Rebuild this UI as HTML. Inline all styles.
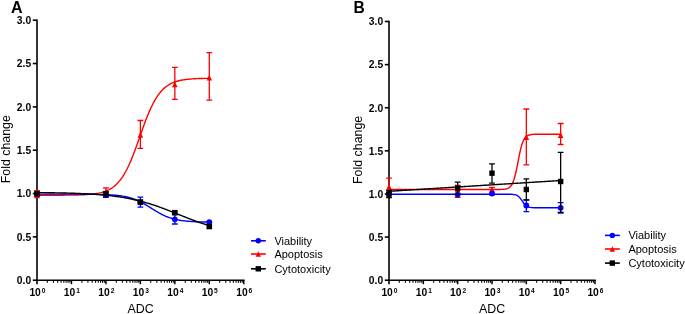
<!DOCTYPE html>
<html><head><meta charset="utf-8"><style>
html,body{margin:0;padding:0;background:#fff;width:685px;height:314px;overflow:hidden}
svg{display:block;will-change:transform}
text{font-family:"Liberation Sans",sans-serif;fill:#000}
.tl{font-size:10.3px;font-weight:bold}
.sup{font-size:6.6px;font-weight:bold}
.at{font-size:12.4px}
.lg{font-size:11.0px}
.pl{font-size:16px;font-weight:bold}
</style></head><body>
<svg width="685" height="314" viewBox="0 0 685 314">
<path d="M37.00 19.40V284.20" stroke="#000" stroke-width="1.6" fill="none"/>
<path d="M32.80 280.20H37.0" stroke="#000" stroke-width="1.6"/>
<text x="31.20" y="284.00" text-anchor="end" class="tl">0.0</text>
<path d="M32.80 236.87H37.0" stroke="#000" stroke-width="1.6"/>
<text x="31.20" y="240.67" text-anchor="end" class="tl">0.5</text>
<path d="M32.80 193.53H37.0" stroke="#000" stroke-width="1.6"/>
<text x="31.20" y="197.33" text-anchor="end" class="tl">1.0</text>
<path d="M32.80 150.20H37.0" stroke="#000" stroke-width="1.6"/>
<text x="31.20" y="154.00" text-anchor="end" class="tl">1.5</text>
<path d="M32.80 106.87H37.0" stroke="#000" stroke-width="1.6"/>
<text x="31.20" y="110.67" text-anchor="end" class="tl">2.0</text>
<path d="M32.80 63.53H37.0" stroke="#000" stroke-width="1.6"/>
<text x="31.20" y="67.33" text-anchor="end" class="tl">2.5</text>
<path d="M32.80 20.20H37.0" stroke="#000" stroke-width="1.6"/>
<text x="31.20" y="24.00" text-anchor="end" class="tl">3.0</text>
<path d="M36.20 280.20H244.56" stroke="#000" stroke-width="1.6" fill="none"/>
<text x="29.40" y="296.00" class="tl">10</text><text x="41.80" y="292.90" class="sup">0</text>
<path d="M47.37 280.20V282.70" stroke="#000" stroke-width="1.1"/>
<path d="M53.44 280.20V282.70" stroke="#000" stroke-width="1.1"/>
<path d="M57.75 280.20V282.70" stroke="#000" stroke-width="1.1"/>
<path d="M61.09 280.20V282.70" stroke="#000" stroke-width="1.1"/>
<path d="M63.82 280.20V282.70" stroke="#000" stroke-width="1.1"/>
<path d="M66.12 280.20V282.70" stroke="#000" stroke-width="1.1"/>
<path d="M68.12 280.20V282.70" stroke="#000" stroke-width="1.1"/>
<path d="M69.88 280.20V282.70" stroke="#000" stroke-width="1.1"/>
<path d="M71.46 280.20V284.20" stroke="#000" stroke-width="1.5"/>
<text x="63.86" y="296.00" class="tl">10</text><text x="76.26" y="292.90" class="sup">1</text>
<path d="M81.83 280.20V282.70" stroke="#000" stroke-width="1.1"/>
<path d="M87.90 280.20V282.70" stroke="#000" stroke-width="1.1"/>
<path d="M92.21 280.20V282.70" stroke="#000" stroke-width="1.1"/>
<path d="M95.55 280.20V282.70" stroke="#000" stroke-width="1.1"/>
<path d="M98.28 280.20V282.70" stroke="#000" stroke-width="1.1"/>
<path d="M100.58 280.20V282.70" stroke="#000" stroke-width="1.1"/>
<path d="M102.58 280.20V282.70" stroke="#000" stroke-width="1.1"/>
<path d="M104.34 280.20V282.70" stroke="#000" stroke-width="1.1"/>
<path d="M105.92 280.20V284.20" stroke="#000" stroke-width="1.5"/>
<text x="98.32" y="296.00" class="tl">10</text><text x="110.72" y="292.90" class="sup">2</text>
<path d="M116.29 280.20V282.70" stroke="#000" stroke-width="1.1"/>
<path d="M122.36 280.20V282.70" stroke="#000" stroke-width="1.1"/>
<path d="M126.67 280.20V282.70" stroke="#000" stroke-width="1.1"/>
<path d="M130.01 280.20V282.70" stroke="#000" stroke-width="1.1"/>
<path d="M132.74 280.20V282.70" stroke="#000" stroke-width="1.1"/>
<path d="M135.04 280.20V282.70" stroke="#000" stroke-width="1.1"/>
<path d="M137.04 280.20V282.70" stroke="#000" stroke-width="1.1"/>
<path d="M138.80 280.20V282.70" stroke="#000" stroke-width="1.1"/>
<path d="M140.38 280.20V284.20" stroke="#000" stroke-width="1.5"/>
<text x="132.78" y="296.00" class="tl">10</text><text x="145.18" y="292.90" class="sup">3</text>
<path d="M150.75 280.20V282.70" stroke="#000" stroke-width="1.1"/>
<path d="M156.82 280.20V282.70" stroke="#000" stroke-width="1.1"/>
<path d="M161.13 280.20V282.70" stroke="#000" stroke-width="1.1"/>
<path d="M164.47 280.20V282.70" stroke="#000" stroke-width="1.1"/>
<path d="M167.20 280.20V282.70" stroke="#000" stroke-width="1.1"/>
<path d="M169.50 280.20V282.70" stroke="#000" stroke-width="1.1"/>
<path d="M171.50 280.20V282.70" stroke="#000" stroke-width="1.1"/>
<path d="M173.26 280.20V282.70" stroke="#000" stroke-width="1.1"/>
<path d="M174.84 280.20V284.20" stroke="#000" stroke-width="1.5"/>
<text x="167.24" y="296.00" class="tl">10</text><text x="179.64" y="292.90" class="sup">4</text>
<path d="M185.21 280.20V282.70" stroke="#000" stroke-width="1.1"/>
<path d="M191.28 280.20V282.70" stroke="#000" stroke-width="1.1"/>
<path d="M195.59 280.20V282.70" stroke="#000" stroke-width="1.1"/>
<path d="M198.93 280.20V282.70" stroke="#000" stroke-width="1.1"/>
<path d="M201.66 280.20V282.70" stroke="#000" stroke-width="1.1"/>
<path d="M203.96 280.20V282.70" stroke="#000" stroke-width="1.1"/>
<path d="M205.96 280.20V282.70" stroke="#000" stroke-width="1.1"/>
<path d="M207.72 280.20V282.70" stroke="#000" stroke-width="1.1"/>
<path d="M209.30 280.20V284.20" stroke="#000" stroke-width="1.5"/>
<text x="201.70" y="296.00" class="tl">10</text><text x="214.10" y="292.90" class="sup">5</text>
<path d="M219.67 280.20V282.70" stroke="#000" stroke-width="1.1"/>
<path d="M225.74 280.20V282.70" stroke="#000" stroke-width="1.1"/>
<path d="M230.05 280.20V282.70" stroke="#000" stroke-width="1.1"/>
<path d="M233.39 280.20V282.70" stroke="#000" stroke-width="1.1"/>
<path d="M236.12 280.20V282.70" stroke="#000" stroke-width="1.1"/>
<path d="M238.42 280.20V282.70" stroke="#000" stroke-width="1.1"/>
<path d="M240.42 280.20V282.70" stroke="#000" stroke-width="1.1"/>
<path d="M242.18 280.20V282.70" stroke="#000" stroke-width="1.1"/>
<path d="M243.76 280.20V284.20" stroke="#000" stroke-width="1.5"/>
<text x="236.16" y="296.00" class="tl">10</text><text x="248.56" y="292.90" class="sup">6</text>
<text x="140.58" y="312.6" text-anchor="middle" class="at">ADC</text>
<text transform="translate(9.70 149.20) rotate(-90)" text-anchor="middle" class="at">Fold change</text>
<text x="11.0" y="12.6" class="pl" style="font-size:16px">A</text>
<path d="M37.00 195.24 L38.08 195.24 L39.17 195.24 L40.25 195.24 L41.33 195.24 L42.42 195.24 L43.50 195.24 L44.59 195.24 L45.67 195.24 L46.75 195.24 L47.84 195.23 L48.92 195.23 L50.00 195.23 L51.09 195.23 L52.17 195.23 L53.25 195.22 L54.34 195.22 L55.42 195.22 L56.51 195.21 L57.59 195.21 L58.67 195.21 L59.76 195.20 L60.84 195.20 L61.92 195.19 L63.01 195.18 L64.09 195.18 L65.17 195.17 L66.26 195.16 L67.34 195.15 L68.43 195.14 L69.51 195.12 L70.59 195.11 L71.68 195.09 L72.76 195.08 L73.84 195.06 L74.93 195.04 L76.01 195.01 L77.09 194.99 L78.18 194.96 L79.26 194.92 L80.35 194.89 L81.43 194.85 L82.51 194.80 L83.60 194.75 L84.68 194.70 L85.76 194.64 L86.85 194.57 L87.93 194.50 L89.02 194.41 L90.10 194.32 L91.18 194.22 L92.27 194.11 L93.35 193.98 L94.43 193.84 L95.52 193.69 L96.60 193.52 L97.68 193.33 L98.77 193.12 L99.85 192.88 L100.94 192.63 L102.02 192.34 L103.10 192.03 L104.19 191.68 L105.27 191.30 L106.35 190.88 L107.44 190.42 L108.52 189.90 L109.60 189.34 L110.69 188.72 L111.77 188.04 L112.86 187.30 L113.94 186.48 L115.02 185.59 L116.11 184.61 L117.19 183.55 L118.27 182.40 L119.36 181.14 L120.44 179.78 L121.52 178.31 L122.61 176.73 L123.69 175.03 L124.78 173.21 L125.86 171.27 L126.94 169.20 L128.03 167.01 L129.11 164.69 L130.19 162.26 L131.28 159.71 L132.36 157.05 L133.44 154.30 L134.53 151.45 L135.61 148.53 L136.70 145.55 L137.78 142.52 L138.86 139.46 L139.95 136.38 L141.03 133.30 L142.11 130.25 L143.20 127.22 L144.28 124.25 L145.36 121.35 L146.45 118.52 L147.53 115.79 L148.62 113.15 L149.70 110.63 L150.78 108.22 L151.87 105.93 L152.95 103.76 L154.03 101.72 L155.12 99.81 L156.20 98.01 L157.28 96.34 L158.37 94.78 L159.45 93.34 L160.54 92.00 L161.62 90.77 L162.70 89.63 L163.79 88.59 L164.87 87.63 L165.95 86.76 L167.04 85.96 L168.12 85.23 L169.21 84.56 L170.29 83.95 L171.37 83.40 L172.46 82.90 L173.54 82.45 L174.62 82.03 L175.71 81.66 L176.79 81.32 L177.87 81.01 L178.96 80.73 L180.04 80.48 L181.13 80.26 L182.21 80.05 L183.29 79.87 L184.38 79.70 L185.46 79.55 L186.54 79.41 L187.63 79.29 L188.71 79.18 L189.79 79.08 L190.88 78.99 L191.96 78.91 L193.05 78.83 L194.13 78.77 L195.21 78.71 L196.30 78.66 L197.38 78.61 L198.46 78.56 L199.55 78.52 L200.63 78.49 L201.71 78.46 L202.80 78.43 L203.88 78.40 L204.97 78.38 L206.05 78.36 L207.13 78.34 L208.22 78.32 L209.30 78.31" stroke="#ff0000" stroke-width="1.4" fill="none" stroke-linejoin="round"/>
<path d="M37.00 194.13 L38.08 194.13 L39.17 194.13 L40.25 194.13 L41.33 194.13 L42.42 194.13 L43.50 194.13 L44.59 194.13 L45.67 194.13 L46.75 194.13 L47.84 194.13 L48.92 194.13 L50.00 194.13 L51.09 194.13 L52.17 194.13 L53.25 194.13 L54.34 194.13 L55.42 194.14 L56.51 194.14 L57.59 194.14 L58.67 194.14 L59.76 194.14 L60.84 194.14 L61.92 194.14 L63.01 194.14 L64.09 194.14 L65.17 194.14 L66.26 194.14 L67.34 194.15 L68.43 194.15 L69.51 194.15 L70.59 194.15 L71.68 194.15 L72.76 194.15 L73.84 194.16 L74.93 194.16 L76.01 194.16 L77.09 194.17 L78.18 194.17 L79.26 194.17 L80.35 194.18 L81.43 194.18 L82.51 194.19 L83.60 194.20 L84.68 194.20 L85.76 194.21 L86.85 194.22 L87.93 194.23 L89.02 194.24 L90.10 194.25 L91.18 194.26 L92.27 194.27 L93.35 194.29 L94.43 194.30 L95.52 194.32 L96.60 194.34 L97.68 194.36 L98.77 194.38 L99.85 194.41 L100.94 194.44 L102.02 194.47 L103.10 194.50 L104.19 194.54 L105.27 194.58 L106.35 194.62 L107.44 194.67 L108.52 194.73 L109.60 194.79 L110.69 194.85 L111.77 194.92 L112.86 195.00 L113.94 195.09 L115.02 195.18 L116.11 195.28 L117.19 195.40 L118.27 195.52 L119.36 195.65 L120.44 195.80 L121.52 195.96 L122.61 196.13 L123.69 196.32 L124.78 196.52 L125.86 196.74 L126.94 196.98 L128.03 197.24 L129.11 197.52 L130.19 197.82 L131.28 198.15 L132.36 198.49 L133.44 198.86 L134.53 199.26 L135.61 199.67 L136.70 200.12 L137.78 200.59 L138.86 201.09 L139.95 201.61 L141.03 202.15 L142.11 202.72 L143.20 203.31 L144.28 203.92 L145.36 204.55 L146.45 205.19 L147.53 205.85 L148.62 206.52 L149.70 207.20 L150.78 207.88 L151.87 208.56 L152.95 209.24 L154.03 209.92 L155.12 210.58 L156.20 211.24 L157.28 211.88 L158.37 212.51 L159.45 213.12 L160.54 213.71 L161.62 214.27 L162.70 214.82 L163.79 215.34 L164.87 215.83 L165.95 216.30 L167.04 216.74 L168.12 217.16 L169.21 217.55 L170.29 217.92 L171.37 218.26 L172.46 218.58 L173.54 218.88 L174.62 219.16 L175.71 219.42 L176.79 219.65 L177.87 219.87 L178.96 220.08 L180.04 220.26 L181.13 220.44 L182.21 220.59 L183.29 220.74 L184.38 220.87 L185.46 220.99 L186.54 221.11 L187.63 221.21 L188.71 221.30 L189.79 221.39 L190.88 221.46 L191.96 221.53 L193.05 221.60 L194.13 221.66 L195.21 221.71 L196.30 221.76 L197.38 221.81 L198.46 221.85 L199.55 221.88 L200.63 221.92 L201.71 221.95 L202.80 221.97 L203.88 222.00 L204.97 222.02 L206.05 222.04 L207.13 222.06 L208.22 222.08 L209.30 222.10" stroke="#0000ff" stroke-width="1.4" fill="none" stroke-linejoin="round"/>
<path d="M37.00 192.59 L38.08 192.60 L39.17 192.61 L40.25 192.62 L41.33 192.63 L42.42 192.64 L43.50 192.66 L44.59 192.67 L45.67 192.68 L46.75 192.69 L47.84 192.71 L48.92 192.72 L50.00 192.74 L51.09 192.76 L52.17 192.77 L53.25 192.79 L54.34 192.81 L55.42 192.83 L56.51 192.85 L57.59 192.87 L58.67 192.89 L59.76 192.91 L60.84 192.93 L61.92 192.95 L63.01 192.98 L64.09 193.00 L65.17 193.03 L66.26 193.06 L67.34 193.09 L68.43 193.12 L69.51 193.15 L70.59 193.18 L71.68 193.21 L72.76 193.25 L73.84 193.28 L74.93 193.32 L76.01 193.36 L77.09 193.40 L78.18 193.44 L79.26 193.48 L80.35 193.53 L81.43 193.58 L82.51 193.62 L83.60 193.68 L84.68 193.73 L85.76 193.78 L86.85 193.84 L87.93 193.90 L89.02 193.96 L90.10 194.02 L91.18 194.09 L92.27 194.15 L93.35 194.22 L94.43 194.30 L95.52 194.37 L96.60 194.45 L97.68 194.53 L98.77 194.61 L99.85 194.70 L100.94 194.79 L102.02 194.89 L103.10 194.98 L104.19 195.08 L105.27 195.19 L106.35 195.29 L107.44 195.40 L108.52 195.52 L109.60 195.64 L110.69 195.76 L111.77 195.89 L112.86 196.02 L113.94 196.16 L115.02 196.30 L116.11 196.44 L117.19 196.59 L118.27 196.75 L119.36 196.90 L120.44 197.07 L121.52 197.24 L122.61 197.41 L123.69 197.60 L124.78 197.78 L125.86 197.97 L126.94 198.17 L128.03 198.37 L129.11 198.58 L130.19 198.80 L131.28 199.02 L132.36 199.25 L133.44 199.48 L134.53 199.72 L135.61 199.97 L136.70 200.22 L137.78 200.48 L138.86 200.75 L139.95 201.02 L141.03 201.30 L142.11 201.59 L143.20 201.88 L144.28 202.18 L145.36 202.49 L146.45 202.80 L147.53 203.12 L148.62 203.44 L149.70 203.78 L150.78 204.11 L151.87 204.46 L152.95 204.81 L154.03 205.17 L155.12 205.53 L156.20 205.90 L157.28 206.27 L158.37 206.65 L159.45 207.04 L160.54 207.43 L161.62 207.83 L162.70 208.23 L163.79 208.63 L164.87 209.04 L165.95 209.45 L167.04 209.87 L168.12 210.29 L169.21 210.71 L170.29 211.14 L171.37 211.56 L172.46 211.99 L173.54 212.43 L174.62 212.86 L175.71 213.29 L176.79 213.73 L177.87 214.16 L178.96 214.60 L180.04 215.04 L181.13 215.47 L182.21 215.91 L183.29 216.34 L184.38 216.77 L185.46 217.20 L186.54 217.63 L187.63 218.05 L188.71 218.47 L189.79 218.89 L190.88 219.31 L191.96 219.72 L193.05 220.13 L194.13 220.53 L195.21 220.93 L196.30 221.33 L197.38 221.72 L198.46 222.10 L199.55 222.48 L200.63 222.85 L201.71 223.22 L202.80 223.58 L203.88 223.94 L204.97 224.29 L206.05 224.63 L207.13 224.97 L208.22 225.30 L209.30 225.63" stroke="#000000" stroke-width="1.4" fill="none" stroke-linejoin="round"/>
<path d="M37.00 190.60V196.90M34.10 190.60H39.90M34.10 196.90H39.90" stroke="#ff0000" stroke-width="1.3" fill="none"/>
<path d="M105.92 187.80V195.00M103.02 187.80H108.82M103.02 195.00H108.82" stroke="#ff0000" stroke-width="1.3" fill="none"/>
<path d="M140.38 120.50V148.30M137.48 120.50H143.28M137.48 148.30H143.28" stroke="#ff0000" stroke-width="1.3" fill="none"/>
<path d="M174.84 67.40V99.30M171.94 67.40H177.74M171.94 99.30H177.74" stroke="#ff0000" stroke-width="1.3" fill="none"/>
<path d="M209.30 52.70V100.20M206.40 52.70H212.20M206.40 100.20H212.20" stroke="#ff0000" stroke-width="1.3" fill="none"/>
<path d="M37.00 192.36L39.80 198.24L34.20 198.24Z" fill="#ff0000"/>
<path d="M105.92 188.46L108.72 194.34L103.12 194.34Z" fill="#ff0000"/>
<path d="M140.38 131.76L143.18 137.64L137.58 137.64Z" fill="#ff0000"/>
<path d="M174.84 81.36L177.64 87.24L172.04 87.24Z" fill="#ff0000"/>
<path d="M209.30 74.66L212.10 80.54L206.50 80.54Z" fill="#ff0000"/>
<path d="M105.92 192.00V197.30M103.02 192.00H108.82M103.02 197.30H108.82" stroke="#0000ff" stroke-width="1.3" fill="none"/>
<path d="M140.38 197.20V207.20M137.48 197.20H143.28M137.48 207.20H143.28" stroke="#0000ff" stroke-width="1.3" fill="none"/>
<path d="M174.84 214.00V224.00M171.94 214.00H177.74M171.94 224.00H177.74" stroke="#0000ff" stroke-width="1.3" fill="none"/>
<circle cx="37.00" cy="193.80" r="2.90" fill="#0000ff"/>
<circle cx="105.92" cy="195.30" r="2.90" fill="#0000ff"/>
<circle cx="140.38" cy="202.30" r="2.90" fill="#0000ff"/>
<circle cx="174.84" cy="219.30" r="2.90" fill="#0000ff"/>
<circle cx="209.30" cy="222.20" r="2.90" fill="#0000ff"/>
<rect x="34.20" y="191.00" width="5.60" height="5.60" fill="#000000"/>
<rect x="103.12" y="191.10" width="5.60" height="5.60" fill="#000000"/>
<rect x="137.58" y="199.20" width="5.60" height="5.60" fill="#000000"/>
<rect x="172.04" y="209.90" width="5.60" height="5.60" fill="#000000"/>
<rect x="206.50" y="223.70" width="5.60" height="5.60" fill="#000000"/>
<path d="M251.00 240.80H265.80" stroke="#0000ff" stroke-width="1.6"/>
<circle cx="258.30" cy="240.80" r="2.70" fill="#0000ff"/>
<text x="274.40" y="244.80" class="lg">Viability</text>
<path d="M251.00 254.00H265.80" stroke="#ff0000" stroke-width="1.6"/>
<path d="M258.30 251.16L261.00 256.83L255.60 256.83Z" fill="#ff0000"/>
<text x="274.40" y="258.00" class="lg">Apoptosis</text>
<path d="M251.00 268.80H265.80" stroke="#000000" stroke-width="1.6"/>
<rect x="255.60" y="266.10" width="5.40" height="5.40" fill="#000000"/>
<text x="274.40" y="272.80" class="lg">Cytotoxicity</text>
<path d="M389.00 20.70V284.20" stroke="#000" stroke-width="1.6" fill="none"/>
<path d="M384.80 280.20H389.0" stroke="#000" stroke-width="1.6"/>
<text x="383.20" y="284.00" text-anchor="end" class="tl">0.0</text>
<path d="M384.80 237.08H389.0" stroke="#000" stroke-width="1.6"/>
<text x="383.20" y="240.88" text-anchor="end" class="tl">0.5</text>
<path d="M384.80 193.97H389.0" stroke="#000" stroke-width="1.6"/>
<text x="383.20" y="197.77" text-anchor="end" class="tl">1.0</text>
<path d="M384.80 150.85H389.0" stroke="#000" stroke-width="1.6"/>
<text x="383.20" y="154.65" text-anchor="end" class="tl">1.5</text>
<path d="M384.80 107.73H389.0" stroke="#000" stroke-width="1.6"/>
<text x="383.20" y="111.53" text-anchor="end" class="tl">2.0</text>
<path d="M384.80 64.62H389.0" stroke="#000" stroke-width="1.6"/>
<text x="383.20" y="68.42" text-anchor="end" class="tl">2.5</text>
<path d="M384.80 21.50H389.0" stroke="#000" stroke-width="1.6"/>
<text x="383.20" y="25.30" text-anchor="end" class="tl">3.0</text>
<path d="M388.20 280.20H595.78" stroke="#000" stroke-width="1.6" fill="none"/>
<text x="381.40" y="296.00" class="tl">10</text><text x="393.80" y="292.90" class="sup">0</text>
<path d="M399.33 280.20V282.70" stroke="#000" stroke-width="1.1"/>
<path d="M405.38 280.20V282.70" stroke="#000" stroke-width="1.1"/>
<path d="M409.67 280.20V282.70" stroke="#000" stroke-width="1.1"/>
<path d="M413.00 280.20V282.70" stroke="#000" stroke-width="1.1"/>
<path d="M415.71 280.20V282.70" stroke="#000" stroke-width="1.1"/>
<path d="M418.01 280.20V282.70" stroke="#000" stroke-width="1.1"/>
<path d="M420.00 280.20V282.70" stroke="#000" stroke-width="1.1"/>
<path d="M421.76 280.20V282.70" stroke="#000" stroke-width="1.1"/>
<path d="M423.33 280.20V284.20" stroke="#000" stroke-width="1.5"/>
<text x="415.73" y="296.00" class="tl">10</text><text x="428.13" y="292.90" class="sup">1</text>
<path d="M433.66 280.20V282.70" stroke="#000" stroke-width="1.1"/>
<path d="M439.71 280.20V282.70" stroke="#000" stroke-width="1.1"/>
<path d="M444.00 280.20V282.70" stroke="#000" stroke-width="1.1"/>
<path d="M447.33 280.20V282.70" stroke="#000" stroke-width="1.1"/>
<path d="M450.04 280.20V282.70" stroke="#000" stroke-width="1.1"/>
<path d="M452.34 280.20V282.70" stroke="#000" stroke-width="1.1"/>
<path d="M454.33 280.20V282.70" stroke="#000" stroke-width="1.1"/>
<path d="M456.09 280.20V282.70" stroke="#000" stroke-width="1.1"/>
<path d="M457.66 280.20V284.20" stroke="#000" stroke-width="1.5"/>
<text x="450.06" y="296.00" class="tl">10</text><text x="462.46" y="292.90" class="sup">2</text>
<path d="M467.99 280.20V282.70" stroke="#000" stroke-width="1.1"/>
<path d="M474.04 280.20V282.70" stroke="#000" stroke-width="1.1"/>
<path d="M478.33 280.20V282.70" stroke="#000" stroke-width="1.1"/>
<path d="M481.66 280.20V282.70" stroke="#000" stroke-width="1.1"/>
<path d="M484.37 280.20V282.70" stroke="#000" stroke-width="1.1"/>
<path d="M486.67 280.20V282.70" stroke="#000" stroke-width="1.1"/>
<path d="M488.66 280.20V282.70" stroke="#000" stroke-width="1.1"/>
<path d="M490.42 280.20V282.70" stroke="#000" stroke-width="1.1"/>
<path d="M491.99 280.20V284.20" stroke="#000" stroke-width="1.5"/>
<text x="484.39" y="296.00" class="tl">10</text><text x="496.79" y="292.90" class="sup">3</text>
<path d="M502.32 280.20V282.70" stroke="#000" stroke-width="1.1"/>
<path d="M508.37 280.20V282.70" stroke="#000" stroke-width="1.1"/>
<path d="M512.66 280.20V282.70" stroke="#000" stroke-width="1.1"/>
<path d="M515.99 280.20V282.70" stroke="#000" stroke-width="1.1"/>
<path d="M518.70 280.20V282.70" stroke="#000" stroke-width="1.1"/>
<path d="M521.00 280.20V282.70" stroke="#000" stroke-width="1.1"/>
<path d="M522.99 280.20V282.70" stroke="#000" stroke-width="1.1"/>
<path d="M524.75 280.20V282.70" stroke="#000" stroke-width="1.1"/>
<path d="M526.32 280.20V284.20" stroke="#000" stroke-width="1.5"/>
<text x="518.72" y="296.00" class="tl">10</text><text x="531.12" y="292.90" class="sup">4</text>
<path d="M536.65 280.20V282.70" stroke="#000" stroke-width="1.1"/>
<path d="M542.70 280.20V282.70" stroke="#000" stroke-width="1.1"/>
<path d="M546.99 280.20V282.70" stroke="#000" stroke-width="1.1"/>
<path d="M550.32 280.20V282.70" stroke="#000" stroke-width="1.1"/>
<path d="M553.03 280.20V282.70" stroke="#000" stroke-width="1.1"/>
<path d="M555.33 280.20V282.70" stroke="#000" stroke-width="1.1"/>
<path d="M557.32 280.20V282.70" stroke="#000" stroke-width="1.1"/>
<path d="M559.08 280.20V282.70" stroke="#000" stroke-width="1.1"/>
<path d="M560.65 280.20V284.20" stroke="#000" stroke-width="1.5"/>
<text x="553.05" y="296.00" class="tl">10</text><text x="565.45" y="292.90" class="sup">5</text>
<path d="M570.98 280.20V282.70" stroke="#000" stroke-width="1.1"/>
<path d="M577.03 280.20V282.70" stroke="#000" stroke-width="1.1"/>
<path d="M581.32 280.20V282.70" stroke="#000" stroke-width="1.1"/>
<path d="M584.65 280.20V282.70" stroke="#000" stroke-width="1.1"/>
<path d="M587.36 280.20V282.70" stroke="#000" stroke-width="1.1"/>
<path d="M589.66 280.20V282.70" stroke="#000" stroke-width="1.1"/>
<path d="M591.65 280.20V282.70" stroke="#000" stroke-width="1.1"/>
<path d="M593.41 280.20V282.70" stroke="#000" stroke-width="1.1"/>
<path d="M594.98 280.20V284.20" stroke="#000" stroke-width="1.5"/>
<text x="587.38" y="296.00" class="tl">10</text><text x="599.78" y="292.90" class="sup">6</text>
<text x="492.19" y="312.6" text-anchor="middle" class="at">ADC</text>
<text transform="translate(361.70 149.85) rotate(-90)" text-anchor="middle" class="at">Fold change</text>
<text x="353.5" y="12.6" class="pl" style="font-size:15.6px">B</text>
<path d="M389.00 189.50 L390.08 189.50 L391.16 189.50 L392.24 189.50 L393.32 189.50 L394.40 189.50 L395.48 189.50 L396.56 189.50 L397.64 189.50 L398.72 189.50 L399.80 189.50 L400.88 189.50 L401.95 189.50 L403.03 189.50 L404.11 189.50 L405.19 189.50 L406.27 189.50 L407.35 189.50 L408.43 189.50 L409.51 189.50 L410.59 189.50 L411.67 189.50 L412.75 189.50 L413.83 189.50 L414.91 189.50 L415.99 189.50 L417.07 189.50 L418.15 189.50 L419.23 189.50 L420.31 189.50 L421.39 189.50 L422.47 189.50 L423.55 189.50 L424.63 189.50 L425.71 189.50 L426.78 189.50 L427.86 189.50 L428.94 189.50 L430.02 189.50 L431.10 189.50 L432.18 189.50 L433.26 189.50 L434.34 189.50 L435.42 189.50 L436.50 189.50 L437.58 189.50 L438.66 189.50 L439.74 189.50 L440.82 189.50 L441.90 189.50 L442.98 189.50 L444.06 189.50 L445.14 189.50 L446.22 189.50 L447.30 189.50 L448.38 189.50 L449.46 189.50 L450.53 189.50 L451.61 189.50 L452.69 189.50 L453.77 189.50 L454.85 189.50 L455.93 189.50 L457.01 189.50 L458.09 189.50 L459.17 189.50 L460.25 189.50 L461.33 189.50 L462.41 189.50 L463.49 189.50 L464.57 189.50 L465.65 189.50 L466.73 189.50 L467.81 189.50 L468.89 189.50 L469.97 189.50 L471.05 189.50 L472.13 189.50 L473.21 189.50 L474.29 189.50 L475.36 189.50 L476.44 189.50 L477.52 189.50 L478.60 189.50 L479.68 189.50 L480.76 189.50 L481.84 189.50 L482.92 189.50 L484.00 189.50 L485.08 189.50 L486.16 189.50 L487.24 189.50 L488.32 189.50 L489.40 189.50 L490.48 189.50 L491.56 189.50 L492.64 189.50 L493.72 189.49 L494.80 189.49 L495.88 189.49 L496.96 189.48 L498.04 189.47 L499.12 189.46 L500.19 189.43 L501.27 189.40 L502.35 189.35 L503.43 189.27 L504.51 189.16 L505.59 188.99 L506.67 188.74 L507.75 188.37 L508.83 187.81 L509.91 187.01 L510.99 185.83 L512.07 184.17 L513.15 181.86 L514.23 178.76 L515.31 174.80 L516.39 170.01 L517.47 164.62 L518.55 159.01 L519.63 153.62 L520.71 148.84 L521.79 144.89 L522.87 141.81 L523.94 139.50 L525.02 137.85 L526.10 136.68 L527.18 135.88 L528.26 135.33 L529.34 134.95 L530.42 134.70 L531.50 134.54 L532.58 134.42 L533.66 134.35 L534.74 134.30 L535.82 134.27 L536.90 134.24 L537.98 134.23 L539.06 134.22 L540.14 134.21 L541.22 134.21 L542.30 134.21 L543.38 134.20 L544.46 134.20 L545.54 134.20 L546.62 134.20 L547.70 134.20 L548.77 134.20 L549.85 134.20 L550.93 134.20 L552.01 134.20 L553.09 134.20 L554.17 134.20 L555.25 134.20 L556.33 134.20 L557.41 134.20 L558.49 134.20 L559.57 134.20 L560.65 134.20" stroke="#ff0000" stroke-width="1.4" fill="none" stroke-linejoin="round"/>
<path d="M389.00 194.20 L390.08 194.20 L391.16 194.20 L392.24 194.20 L393.32 194.20 L394.40 194.20 L395.48 194.20 L396.56 194.20 L397.64 194.20 L398.72 194.20 L399.80 194.20 L400.88 194.20 L401.95 194.20 L403.03 194.20 L404.11 194.20 L405.19 194.20 L406.27 194.20 L407.35 194.20 L408.43 194.20 L409.51 194.20 L410.59 194.20 L411.67 194.20 L412.75 194.20 L413.83 194.20 L414.91 194.20 L415.99 194.20 L417.07 194.20 L418.15 194.20 L419.23 194.20 L420.31 194.20 L421.39 194.20 L422.47 194.20 L423.55 194.20 L424.63 194.20 L425.71 194.20 L426.78 194.20 L427.86 194.20 L428.94 194.20 L430.02 194.20 L431.10 194.20 L432.18 194.20 L433.26 194.20 L434.34 194.20 L435.42 194.20 L436.50 194.20 L437.58 194.20 L438.66 194.20 L439.74 194.20 L440.82 194.20 L441.90 194.20 L442.98 194.20 L444.06 194.20 L445.14 194.20 L446.22 194.20 L447.30 194.20 L448.38 194.20 L449.46 194.20 L450.53 194.20 L451.61 194.20 L452.69 194.20 L453.77 194.20 L454.85 194.20 L455.93 194.20 L457.01 194.20 L458.09 194.20 L459.17 194.20 L460.25 194.20 L461.33 194.20 L462.41 194.20 L463.49 194.20 L464.57 194.20 L465.65 194.20 L466.73 194.20 L467.81 194.20 L468.89 194.20 L469.97 194.20 L471.05 194.20 L472.13 194.20 L473.21 194.20 L474.29 194.20 L475.36 194.20 L476.44 194.20 L477.52 194.20 L478.60 194.20 L479.68 194.20 L480.76 194.20 L481.84 194.20 L482.92 194.20 L484.00 194.20 L485.08 194.20 L486.16 194.20 L487.24 194.20 L488.32 194.20 L489.40 194.20 L490.48 194.20 L491.56 194.20 L492.64 194.20 L493.72 194.20 L494.80 194.20 L495.88 194.20 L496.96 194.20 L498.04 194.20 L499.12 194.20 L500.19 194.20 L501.27 194.20 L502.35 194.20 L503.43 194.20 L504.51 194.21 L505.59 194.21 L506.67 194.22 L507.75 194.23 L508.83 194.24 L509.91 194.26 L510.99 194.30 L512.07 194.36 L513.15 194.46 L514.23 194.61 L515.31 194.85 L516.39 195.21 L517.47 195.74 L518.55 196.51 L519.63 197.55 L520.71 198.87 L521.79 200.39 L522.87 201.98 L523.94 203.46 L525.02 204.72 L526.10 205.69 L527.18 206.40 L528.26 206.89 L529.34 207.22 L530.42 207.43 L531.50 207.57 L532.58 207.65 L533.66 207.71 L534.74 207.74 L535.82 207.76 L536.90 207.78 L537.98 207.79 L539.06 207.79 L540.14 207.79 L541.22 207.80 L542.30 207.80 L543.38 207.80 L544.46 207.80 L545.54 207.80 L546.62 207.80 L547.70 207.80 L548.77 207.80 L549.85 207.80 L550.93 207.80 L552.01 207.80 L553.09 207.80 L554.17 207.80 L555.25 207.80 L556.33 207.80 L557.41 207.80 L558.49 207.80 L559.57 207.80 L560.65 207.80" stroke="#0000ff" stroke-width="1.4" fill="none" stroke-linejoin="round"/>
<path d="M389.00 191.30 L390.08 191.23 L391.16 191.16 L392.24 191.10 L393.32 191.03 L394.40 190.96 L395.48 190.89 L396.56 190.82 L397.64 190.76 L398.72 190.69 L399.80 190.62 L400.88 190.55 L401.95 190.49 L403.03 190.42 L404.11 190.35 L405.19 190.28 L406.27 190.21 L407.35 190.15 L408.43 190.08 L409.51 190.01 L410.59 189.94 L411.67 189.87 L412.75 189.81 L413.83 189.74 L414.91 189.67 L415.99 189.60 L417.07 189.53 L418.15 189.47 L419.23 189.40 L420.31 189.33 L421.39 189.26 L422.47 189.19 L423.55 189.13 L424.63 189.06 L425.71 188.99 L426.78 188.92 L427.86 188.86 L428.94 188.79 L430.02 188.72 L431.10 188.65 L432.18 188.58 L433.26 188.52 L434.34 188.45 L435.42 188.38 L436.50 188.31 L437.58 188.24 L438.66 188.18 L439.74 188.11 L440.82 188.04 L441.90 187.97 L442.98 187.90 L444.06 187.84 L445.14 187.77 L446.22 187.70 L447.30 187.63 L448.38 187.57 L449.46 187.50 L450.53 187.43 L451.61 187.36 L452.69 187.29 L453.77 187.23 L454.85 187.16 L455.93 187.09 L457.01 187.02 L458.09 186.95 L459.17 186.89 L460.25 186.82 L461.33 186.75 L462.41 186.68 L463.49 186.61 L464.57 186.55 L465.65 186.48 L466.73 186.41 L467.81 186.34 L468.89 186.28 L469.97 186.21 L471.05 186.14 L472.13 186.07 L473.21 186.00 L474.29 185.94 L475.36 185.87 L476.44 185.80 L477.52 185.73 L478.60 185.66 L479.68 185.60 L480.76 185.53 L481.84 185.46 L482.92 185.39 L484.00 185.32 L485.08 185.26 L486.16 185.19 L487.24 185.12 L488.32 185.05 L489.40 184.98 L490.48 184.92 L491.56 184.85 L492.64 184.78 L493.72 184.71 L494.80 184.65 L495.88 184.58 L496.96 184.51 L498.04 184.44 L499.12 184.37 L500.19 184.31 L501.27 184.24 L502.35 184.17 L503.43 184.10 L504.51 184.03 L505.59 183.97 L506.67 183.90 L507.75 183.83 L508.83 183.76 L509.91 183.69 L510.99 183.63 L512.07 183.56 L513.15 183.49 L514.23 183.42 L515.31 183.36 L516.39 183.29 L517.47 183.22 L518.55 183.15 L519.63 183.08 L520.71 183.02 L521.79 182.95 L522.87 182.88 L523.94 182.81 L525.02 182.74 L526.10 182.68 L527.18 182.61 L528.26 182.54 L529.34 182.47 L530.42 182.40 L531.50 182.34 L532.58 182.27 L533.66 182.20 L534.74 182.13 L535.82 182.07 L536.90 182.00 L537.98 181.93 L539.06 181.86 L540.14 181.79 L541.22 181.73 L542.30 181.66 L543.38 181.59 L544.46 181.52 L545.54 181.45 L546.62 181.39 L547.70 181.32 L548.77 181.25 L549.85 181.18 L550.93 181.11 L552.01 181.05 L553.09 180.98 L554.17 180.91 L555.25 180.84 L556.33 180.77 L557.41 180.71 L558.49 180.64 L559.57 180.57 L560.65 180.50" stroke="#000000" stroke-width="1.4" fill="none" stroke-linejoin="round"/>
<path d="M389.00 178.10V193.00M386.10 178.10H391.90M386.10 193.00H391.90" stroke="#ff0000" stroke-width="1.3" fill="none"/>
<path d="M457.66 185.50V197.40M454.76 185.50H460.56M454.76 197.40H460.56" stroke="#ff0000" stroke-width="1.3" fill="none"/>
<path d="M491.99 187.40V195.00M489.09 187.40H494.89M489.09 195.00H494.89" stroke="#ff0000" stroke-width="1.3" fill="none"/>
<path d="M526.32 109.00V164.90M523.42 109.00H529.22M523.42 164.90H529.22" stroke="#ff0000" stroke-width="1.3" fill="none"/>
<path d="M560.65 123.50V144.50M557.75 123.50H563.55M557.75 144.50H563.55" stroke="#ff0000" stroke-width="1.3" fill="none"/>
<path d="M389.00 183.86L391.80 189.74L386.20 189.74Z" fill="#ff0000"/>
<path d="M457.66 186.36L460.46 192.24L454.86 192.24Z" fill="#ff0000"/>
<path d="M491.99 186.56L494.79 192.44L489.19 192.44Z" fill="#ff0000"/>
<path d="M526.32 134.06L529.12 139.94L523.52 139.94Z" fill="#ff0000"/>
<path d="M560.65 132.16L563.45 138.04L557.85 138.04Z" fill="#ff0000"/>
<path d="M526.32 200.00V211.70M523.42 200.00H529.22M523.42 211.70H529.22" stroke="#0000ff" stroke-width="1.3" fill="none"/>
<path d="M560.65 202.70V213.00M557.75 202.70H563.55M557.75 213.00H563.55" stroke="#0000ff" stroke-width="1.3" fill="none"/>
<circle cx="389.00" cy="194.00" r="2.90" fill="#0000ff"/>
<circle cx="457.66" cy="194.60" r="2.90" fill="#0000ff"/>
<circle cx="491.99" cy="193.50" r="2.90" fill="#0000ff"/>
<circle cx="526.32" cy="205.50" r="2.90" fill="#0000ff"/>
<circle cx="560.65" cy="207.80" r="2.90" fill="#0000ff"/>
<path d="M389.00 190.50V197.50M386.10 190.50H391.90M386.10 197.50H391.90" stroke="#000000" stroke-width="1.3" fill="none"/>
<path d="M457.66 182.20V194.00M454.76 182.20H460.56M454.76 194.00H460.56" stroke="#000000" stroke-width="1.3" fill="none"/>
<path d="M491.99 163.80V183.20M489.09 163.80H494.89M489.09 183.20H494.89" stroke="#000000" stroke-width="1.3" fill="none"/>
<path d="M526.32 178.80V199.80M523.42 178.80H529.22M523.42 199.80H529.22" stroke="#000000" stroke-width="1.3" fill="none"/>
<path d="M560.65 152.30V212.30M557.75 152.30H563.55M557.75 212.30H563.55" stroke="#000000" stroke-width="1.3" fill="none"/>
<rect x="386.30" y="191.30" width="5.40" height="5.40" fill="#000000"/>
<rect x="454.96" y="185.40" width="5.40" height="5.40" fill="#000000"/>
<rect x="489.29" y="170.50" width="5.40" height="5.40" fill="#000000"/>
<rect x="523.62" y="186.80" width="5.40" height="5.40" fill="#000000"/>
<rect x="557.95" y="178.80" width="5.40" height="5.40" fill="#000000"/>
<path d="M605.00 235.40H619.80" stroke="#0000ff" stroke-width="1.6"/>
<circle cx="612.30" cy="235.40" r="2.70" fill="#0000ff"/>
<text x="628.40" y="239.40" class="lg">Viability</text>
<path d="M605.00 249.00H619.80" stroke="#ff0000" stroke-width="1.6"/>
<path d="M612.30 246.16L615.00 251.84L609.60 251.84Z" fill="#ff0000"/>
<text x="628.40" y="253.00" class="lg">Apoptosis</text>
<path d="M605.00 263.10H619.80" stroke="#000000" stroke-width="1.6"/>
<rect x="609.60" y="260.40" width="5.40" height="5.40" fill="#000000"/>
<text x="628.40" y="267.10" class="lg">Cytotoxicity</text>
</svg></body></html>
